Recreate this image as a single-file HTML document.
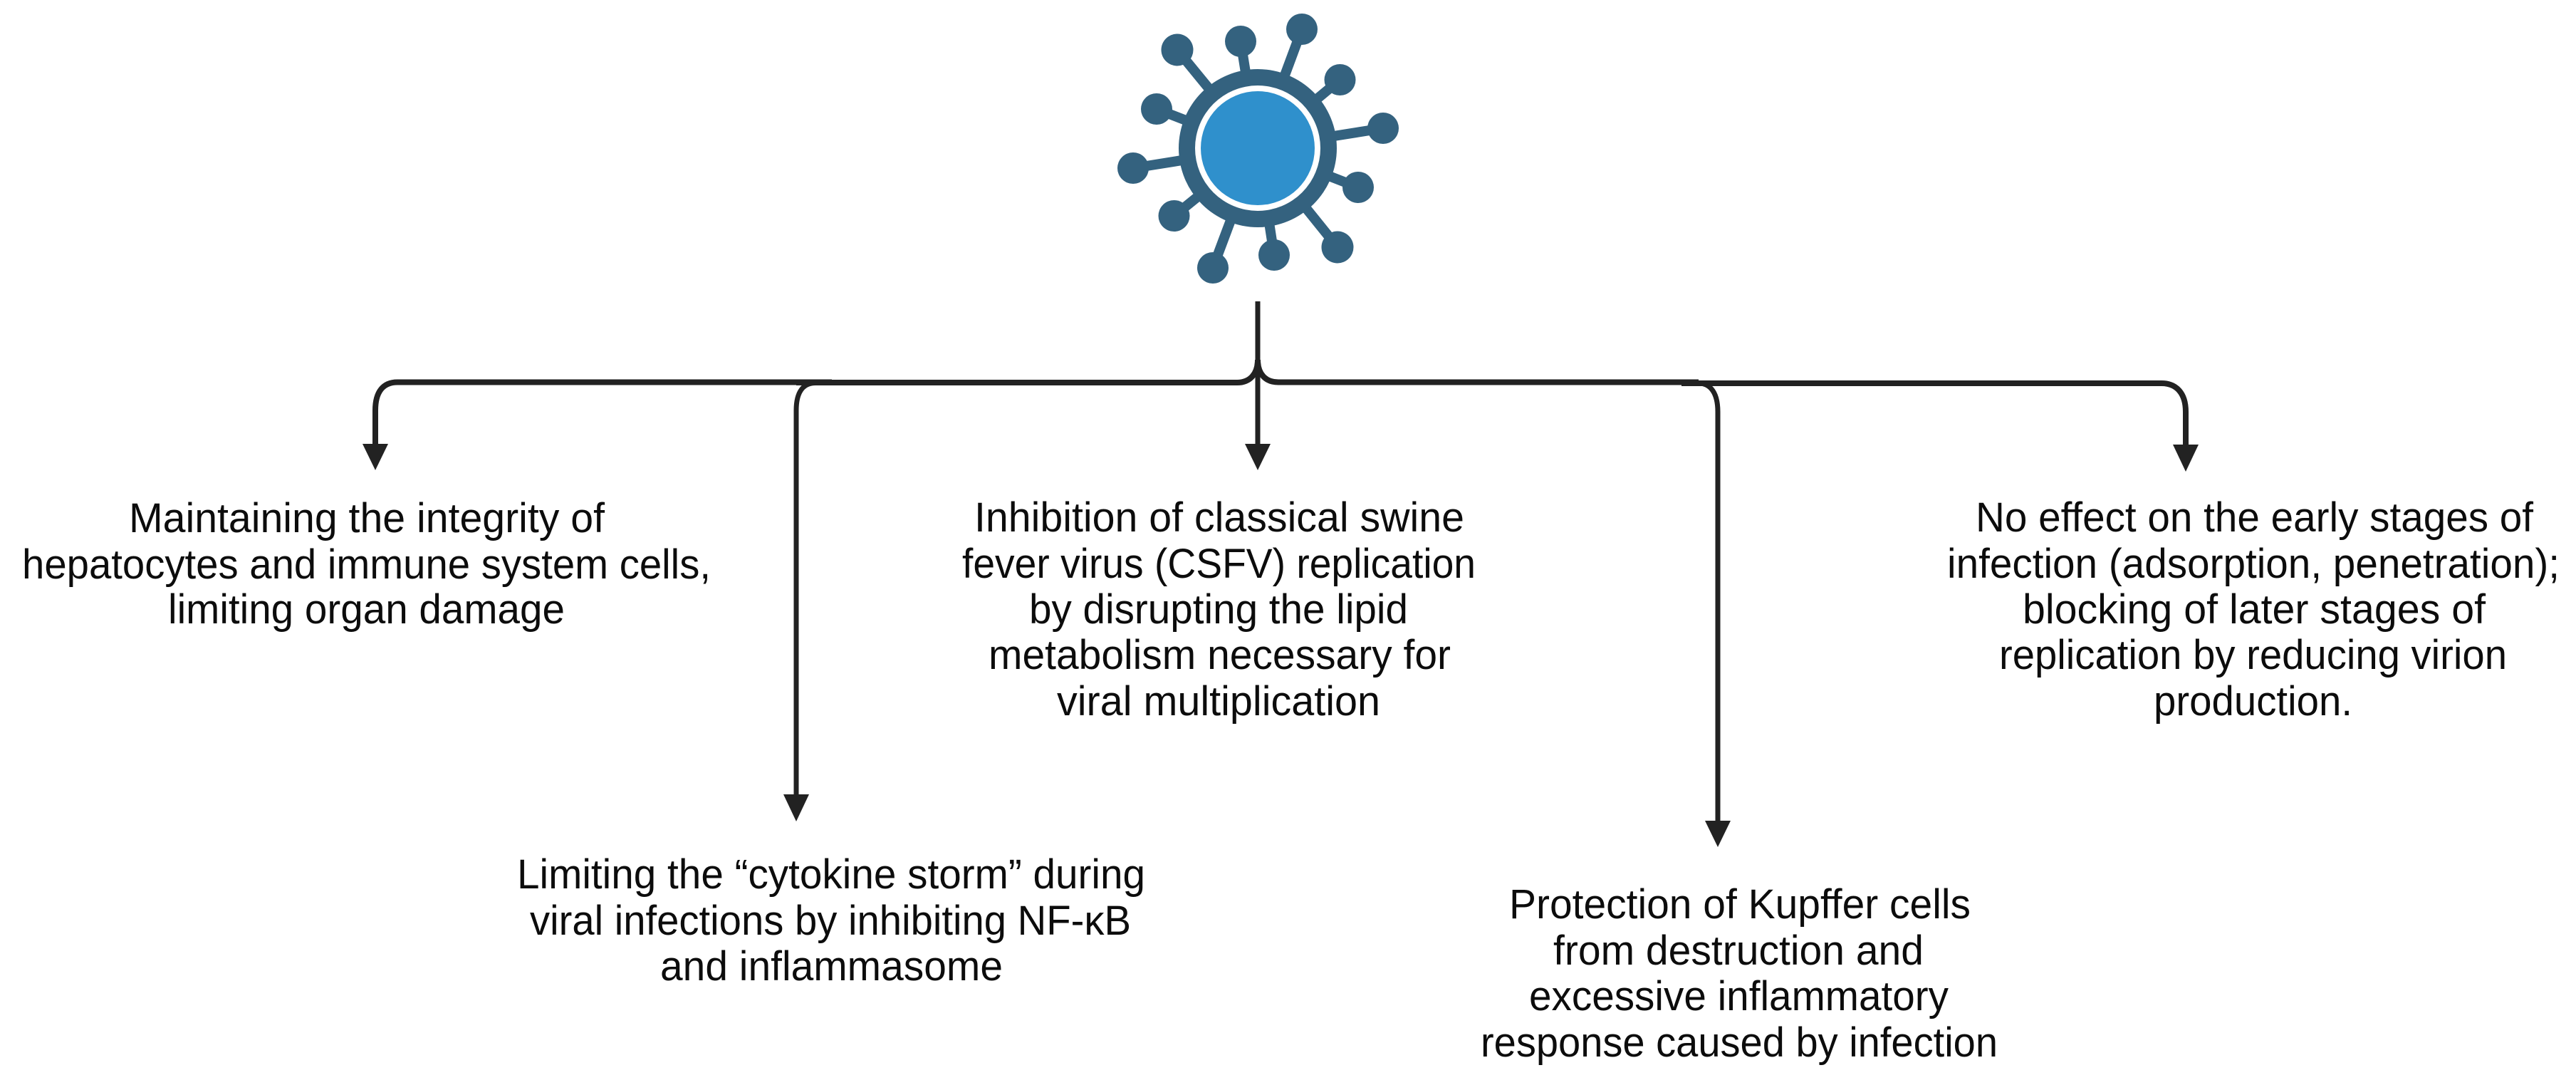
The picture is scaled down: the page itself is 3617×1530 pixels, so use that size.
<!DOCTYPE html>
<html lang="en">
<head>
<meta charset="utf-8">
<title>Diagram</title>
<style>
html,body{margin:0;padding:0;background:#fff;width:3617px;height:1530px;overflow:hidden}
svg{display:block}
text{font-family:"Liberation Sans",sans-serif;font-size:58px;fill:#0c0c0c}
</style>
</head>
<body>
<svg width="3617" height="1530" viewBox="0 0 3617 1530" xmlns="http://www.w3.org/2000/svg">
<rect width="3617" height="1530" fill="#fff"/>
<!-- virus -->
<g stroke="#34627f" stroke-width="14" fill="#34627f">
<line x1="1766" y1="208" x2="1828" y2="41"/>
<line x1="1766" y1="208" x2="1742" y2="58"/>
<line x1="1766" y1="208" x2="1653" y2="70"/>
<line x1="1766" y1="208" x2="1881.5" y2="112"/>
<line x1="1766" y1="208" x2="1624" y2="153"/>
<line x1="1766" y1="208" x2="1942" y2="180"/>
<line x1="1766" y1="208" x2="1591" y2="236"/>
<line x1="1766" y1="208" x2="1907" y2="263"/>
<line x1="1766" y1="208" x2="1648.5" y2="303"/>
<line x1="1766" y1="208" x2="1878" y2="347"/>
<line x1="1766" y1="208" x2="1789" y2="358"/>
<line x1="1766" y1="208" x2="1703" y2="376"/>
</g>
<g fill="#34627f">
<circle cx="1828" cy="41" r="22"/>
<circle cx="1742" cy="58" r="22"/>
<circle cx="1653" cy="70" r="22.5"/>
<circle cx="1881.5" cy="112" r="22"/>
<circle cx="1624" cy="153" r="22"/>
<circle cx="1942" cy="180" r="22"/>
<circle cx="1591" cy="236" r="22"/>
<circle cx="1907" cy="263" r="22"/>
<circle cx="1648.5" cy="303" r="22"/>
<circle cx="1878" cy="347" r="22.5"/>
<circle cx="1789" cy="358" r="22"/>
<circle cx="1703" cy="376" r="22"/>
<circle cx="1766" cy="208" r="111"/>
</g>
<circle cx="1766" cy="208" r="88" fill="#fff"/>
<circle cx="1766" cy="208" r="80" fill="#2f90cc"/>
<!-- connectors -->
<g fill="none" stroke="#222" stroke-width="7">
<path d="M1766 423V628"/>
<path d="M1766 505C1766 525 1755 537 1737 537H1118" stroke-width="8"/>
<path d="M1168 536.500H558C538 536.500 527 550 527 576V628" stroke-width="8"/>
<path d="M1145 537.500C1128 537.500 1118 550 1118 576V1120"/>
<path d="M1766 505C1766 525 1777 536.500 1795 536.500H2385" stroke-width="8"/>
<path d="M2361 538H3035C3056 538 3069 552 3069 578V628" stroke-width="8"/>
<path d="M2385 538C2402 538 2412 552 2412 578V1156"/>
</g>
<g fill="#222">
<polygon points="509,623 545,623 527,660"/>
<polygon points="1100,1115 1136,1115 1118,1153"/>
<polygon points="1748,623 1784,623 1766,660"/>
<polygon points="2394,1152 2430,1152 2412,1189"/>
<polygon points="3051,624 3087,624 3069,662"/>
</g>
<!-- text -->
<g>
<text x="181" y="747" textLength="668" lengthAdjust="spacingAndGlyphs">Maintaining the integrity of</text>
<text x="31" y="812" textLength="967" lengthAdjust="spacingAndGlyphs">hepatocytes and immune system cells,</text>
<text x="236" y="875" textLength="557" lengthAdjust="spacingAndGlyphs">limiting organ damage</text>

<text x="1368" y="746" textLength="688" lengthAdjust="spacingAndGlyphs">Inhibition of classical swine</text>
<text x="1351" y="811" textLength="721" lengthAdjust="spacingAndGlyphs">fever virus (CSFV) replication</text>
<text x="1445" y="875" textLength="532" lengthAdjust="spacingAndGlyphs">by disrupting the lipid</text>
<text x="1388" y="939" textLength="649" lengthAdjust="spacingAndGlyphs">metabolism necessary for</text>
<text x="1484" y="1004" textLength="454" lengthAdjust="spacingAndGlyphs">viral multiplication</text>

<text x="2774" y="746" textLength="783" lengthAdjust="spacingAndGlyphs">No effect on the early stages of</text>
<text x="2734" y="811" textLength="860" lengthAdjust="spacingAndGlyphs">infection (adsorption, penetration);</text>
<text x="2840" y="875" textLength="650" lengthAdjust="spacingAndGlyphs">blocking of later stages of</text>
<text x="2807" y="939" textLength="713" lengthAdjust="spacingAndGlyphs">replication by reducing virion</text>
<text x="3024" y="1004" textLength="279" lengthAdjust="spacingAndGlyphs">production.</text>

<text x="726" y="1247" textLength="882" lengthAdjust="spacingAndGlyphs">Limiting the “cytokine storm” during</text>
<text x="744" y="1312" textLength="844" lengthAdjust="spacingAndGlyphs">viral infections by inhibiting NF-κB</text>
<text x="927" y="1376" textLength="481" lengthAdjust="spacingAndGlyphs">and inflammasome</text>

<text x="2119" y="1289" textLength="648" lengthAdjust="spacingAndGlyphs">Protection of Kupffer cells</text>
<text x="2181" y="1354" textLength="520" lengthAdjust="spacingAndGlyphs">from destruction and</text>
<text x="2147" y="1418" textLength="589" lengthAdjust="spacingAndGlyphs">excessive inflammatory</text>
<text x="2079" y="1483" textLength="726" lengthAdjust="spacingAndGlyphs">response caused by infection</text>
</g>
</svg>
</body>
</html>
